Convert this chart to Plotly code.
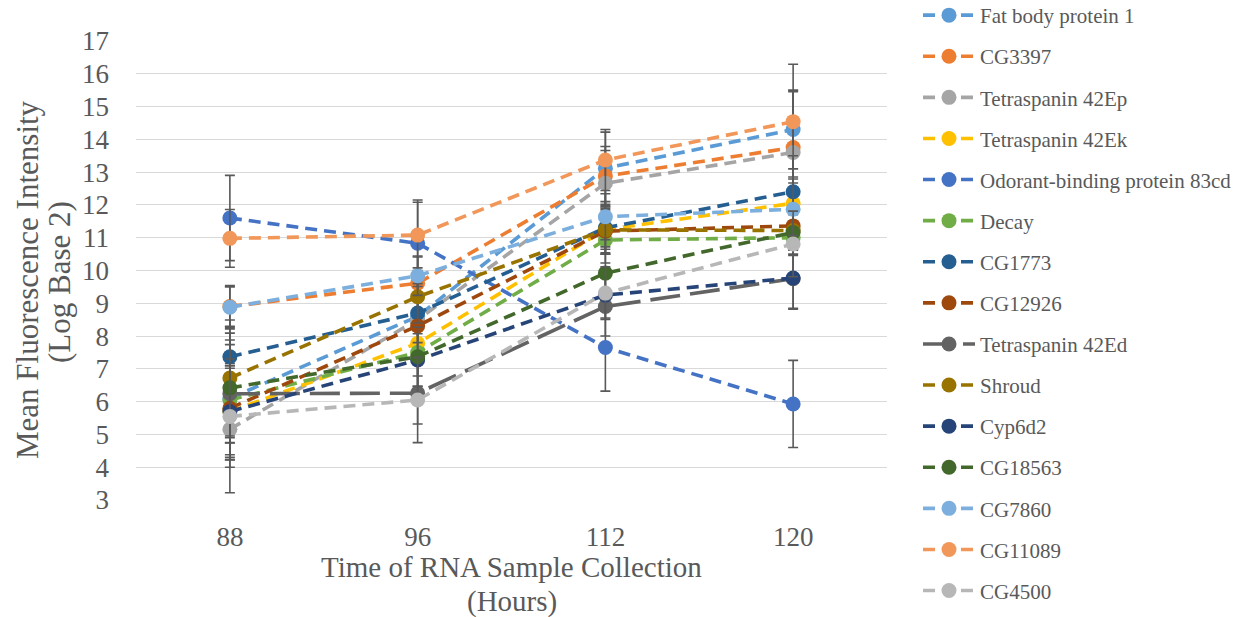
import plotly.graph_objects as go

hours = ["88", "96", "112", "120"]
y_ticks = list(range(3, 18))

names = ["Fat body protein 1", "CG3397", "Tetraspanin 42Ep", "Tetraspanin 42Ek",
         "Odorant-binding protein 83cd", "Decay", "CG1773", "CG12926",
         "Tetraspanin 42Ed", "Shroud", "Cyp6d2", "CG18563", "CG7860",
         "CG11089", "CG4500"]

fat_body_protein_1 = [6.1, 8.6, 13.12, 14.3]
cg3397 = [8.9, 9.61, 12.88, 13.75]
tetraspanin_42ep = [5.16, 8.5, 12.66, 13.6]
tetraspanin_42ek = [5.7, 7.78, 11.25, 12.05]
odorant_83cd = [11.6, 10.83, 7.65, 5.93]
decay = [6.05, 7.5, 10.93, 11.0]
cg1773 = [7.37, 8.7, 11.3, 12.4]
cg12926 = [5.8, 8.31, 11.2, 11.36]
tetraspanin_42ed = [6.24, 6.26, 8.9, 9.75]
shroud = [6.72, 9.2, 11.24, 11.22]
cyp6d2 = [5.7, 7.27, 9.25, 9.77]
cg18563 = [6.42, 7.37, 9.92, 11.16]
cg7860 = [8.88, 9.84, 11.64, 11.87]
cg11089 = [10.98, 11.08, 13.37, 14.54]
cg4500 = [5.55, 6.05, 9.31, 10.81]

err_fat_body_protein_1 = [1.2, 1.1, 1.1, 1.2]
err_cg3397 = [0.6, 0.8, 0.9, 1.7]
err_tetraspanin_42ep = [1.94, 1.2, 1.0, 1.9]
err_tetraspanin_42ek = [1.47, 1.0, 0.6, 0.8]
err_odorant_83cd = [1.3, 1.32, 1.33, 1.33]
err_decay = [1.83, 1.1, 0.7, 0.5]
err_cg1773 = [0.9, 0.9, 0.8, 1.1]
err_cg12926 = [1.5, 0.9, 0.7, 0.6]
err_tetraspanin_42ed = [1.5, 0.94, 0.9, 0.9]
err_shroud = [1.77, 0.8, 0.7, 0.6]
err_cyp6d2 = [1.32, 0.8, 0.7, 0.95]
err_cg18563 = [1.67, 0.9, 0.8, 0.7]
err_cg7860 = [0.66, 0.6, 0.7, 0.8]
err_cg11089 = [0.88, 1.0, 0.93, 1.75]
err_cg4500 = [1.55, 1.3, 0.8, 1.0]

values = [fat_body_protein_1, cg3397, tetraspanin_42ep, tetraspanin_42ek, odorant_83cd,
          decay, cg1773, cg12926, tetraspanin_42ed, shroud, cyp6d2, cg18563, cg7860,
          cg11089, cg4500]
errors = [err_fat_body_protein_1, err_cg3397, err_tetraspanin_42ep, err_tetraspanin_42ek,
          err_odorant_83cd, err_decay, err_cg1773, err_cg12926, err_tetraspanin_42ed,
          err_shroud, err_cyp6d2, err_cg18563, err_cg7860, err_cg11089, err_cg4500]

colors = ["#5B9BD5", "#ED7D31", "#A5A5A5", "#FFC000", "#4472C4", "#70AD47",
          "#255E91", "#9E480E", "#636363", "#997300", "#264478", "#43682B",
          "#7CAFDD", "#F1975A", "#B7B7B7"]
dashes = ["12px,7px"] * 15
dashes[8] = "30px,10px"

FONT = "Liberation Serif, Times New Roman, serif"
TXT = "#595959"

W, H = 1247, 617
L, R, T, B = 136, 887, 41, 500

fig = go.Figure()
for i, name in enumerate(names):
    fig.add_trace(go.Scatter(
        x=hours, y=values[i], name=name, mode="lines+markers",
        legendgroup=f"g{i}",
        line=dict(color=colors[i], width=3.6, dash=dashes[i]),
        marker=dict(color=colors[i], size=15),
        error_y=dict(type="data", array=errors[i], visible=True,
                     color="#595959", thickness=1.6, width=5),
    ))

ann = []
# x-axis title (two lines)
ann.append(dict(text="Time of RNA Sample Collection", xref="paper", yref="paper",
                x=0.5, y=-(567 - B) / (B - T), xanchor="center", yanchor="middle",
                showarrow=False, font=dict(family=FONT, size=29, color=TXT)))
ann.append(dict(text="(Hours)", xref="paper", yref="paper",
                x=0.5, y=-(601 - B) / (B - T), xanchor="center", yanchor="middle",
                showarrow=False, font=dict(family=FONT, size=29, color=TXT)))
# y-axis title (two lines, rotated)
ann.append(dict(text="Mean Fluorescence Intensity", xref="paper", yref="paper",
                x=-(L - 27) / (R - L), y=(B - 280) / (B - T), xanchor="center",
                yanchor="middle", textangle=-90, showarrow=False,
                font=dict(family=FONT, size=31, color=TXT)))
ann.append(dict(text="(Log Base 2)", xref="paper", yref="paper",
                x=-(L - 59) / (R - L), y=(B - 282) / (B - T), xanchor="center",
                yanchor="middle", textangle=-90, showarrow=False,
                font=dict(family=FONT, size=31, color=TXT)))

fig.update_layout(
    width=W, height=H,
    paper_bgcolor="white", plot_bgcolor="white",
    margin=dict(l=L, r=W - R, t=T, b=H - B, autoexpand=False),
    font=dict(family=FONT, color=TXT),
    annotations=ann,
    legend=dict(
        x=(918 - L) / (R - L), y=1 + (T + 5) / (B - T), xanchor="left", yanchor="top",
        font=dict(family=FONT, size=21, color=TXT),
        traceorder="grouped", tracegroupgap=10.8, itemwidth=52,
        maxheight=2000,
        bgcolor="rgba(0,0,0,0)",
    ),
    xaxis=dict(
        type="category", categoryorder="array", categoryarray=hours,
        range=[-0.5, 3.5], showgrid=False, zeroline=False, showline=False,
        ticks="", tickfont=dict(family=FONT, size=27, color=TXT),
        ticklabelstandoff=18,
    ),
    yaxis=dict(
        range=[3, 17], tickvals=y_ticks, showgrid=True, gridcolor="#D9D9D9",
        gridwidth=1, zeroline=False, showline=False, ticks="",
        tickfont=dict(family=FONT, size=27, color=TXT),
        ticklabelstandoff=26,
    ),
)

fig.write_html("out.html", config={"displayModeBar": False},
               post_script="document.body.style.margin='0px';document.body.style.overflow='hidden';")
